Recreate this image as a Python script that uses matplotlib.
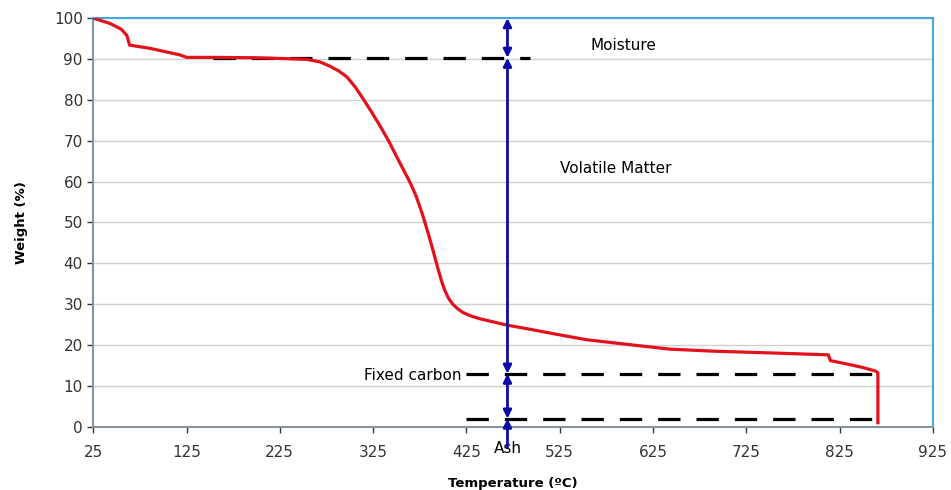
import matplotlib.pyplot as plt

# TGA curve (temperature in degC, weight in %)
temp = [25, 43, 55, 61, 64, 86, 118, 125, 154, 200, 230, 254, 268, 279, 288, 297, 306,
        315, 324, 333, 342, 350, 358, 365, 371, 377, 384, 390, 395, 399, 402, 406, 410,
        415, 421, 430, 440, 455, 468, 490, 520, 554, 600, 643, 690, 733, 775, 813, 815,
        830, 850, 864, 866, 866]
weight = [100, 98.7, 97.3, 95.8, 93.4, 92.6, 91, 90.4, 90.4, 90.3, 90.1, 89.9, 89.3, 88.2,
          87.1, 85.6, 83.1, 80, 76.8, 73.4, 69.8, 66.2, 62.7, 59.6, 56.5, 52.6, 47.4, 42.5,
          38.3, 35.2, 33.3, 31.4, 30.1, 29, 28, 27.1, 26.4, 25.6, 24.9, 24, 22.7, 21.3, 20.1,
          19, 18.5, 18.2, 17.9, 17.6, 16.2, 15.5, 14.5, 13.6, 13.2, 1]

moisture_level = 90.3
fixed_carbon_level = 13
ash_level = 2
arrow_x = 469

xticks = [25, 125, 225, 325, 425, 525, 625, 725, 825, 925]
yticks = list(range(0, 101, 10))

fig = plt.figure(figsize=(9.51, 4.90), dpi=100)
ax = fig.add_axes([0.098, 0.129, 0.883, 0.834])

ax.plot(temp, weight, color='#e2111b', lw=2.3, zorder=4, solid_joinstyle='round')

# dashed reference levels
dash = dict(color='black', lw=2.3, dashes=(7, 5), zorder=3)
ax.plot([153, 493], [moisture_level, moisture_level], **dash)
ax.plot([425, 865], [fixed_carbon_level, fixed_carbon_level], **dash)
ax.plot([425, 865], [ash_level, ash_level], **dash)

# arrows
blue = '#0a0aa8'
arr = dict(arrowstyle='<|-|>', color=blue, lw=2, mutation_scale=12, shrinkA=0, shrinkB=0)
ax.annotate('', xy=(arrow_x, 100), xytext=(arrow_x, moisture_level), arrowprops=arr, zorder=5)
ax.annotate('', xy=(arrow_x, moisture_level), xytext=(arrow_x, fixed_carbon_level), arrowprops=arr, zorder=5)
ax.annotate('', xy=(arrow_x, fixed_carbon_level), xytext=(arrow_x, ash_level), arrowprops=arr, zorder=5)
ax.annotate('', xy=(arrow_x, ash_level), xytext=(arrow_x, -5),
            arrowprops=dict(arrowstyle='-|>', color=blue, lw=2, mutation_scale=12,
                            shrinkA=0, shrinkB=0),
            annotation_clip=False, zorder=5)

ax.text(593, 93.3, 'Moisture', fontsize=11, ha='center', va='center')
ax.text(585, 63.3, 'Volatile Matter', fontsize=11, ha='center', va='center')
ax.text(420, 12.5, 'Fixed carbon', fontsize=11, ha='right', va='center')
ax.text(469, -5.2, 'Ash', fontsize=11, ha='center', va='center', clip_on=False)

ax.set_xlim(25, 925)
ax.set_ylim(0, 100)
ax.set_xticks(xticks)
ax.set_yticks(yticks)
ax.tick_params(labelsize=11, colors='#333333', length=4, width=1)
ax.tick_params(axis='x', pad=9)
ax.yaxis.grid(True, color='#d0d0d0', lw=1)
ax.set_axisbelow(True)

for side in ['left', 'bottom']:
    ax.spines[side].set_color('#8592a0')
    ax.spines[side].set_linewidth(1.5)
for side in ['top', 'right']:
    ax.spines[side].set_color('#3fa9e0')
    ax.spines[side].set_linewidth(1.5)

ax.set_xlabel('Temperature (ºC)', fontsize=9.5, fontweight='bold', labelpad=12)
ax.set_ylabel('Weight (%)', fontsize=9.5, fontweight='bold', labelpad=19)

fig.savefig('out.png', dpi=100)
